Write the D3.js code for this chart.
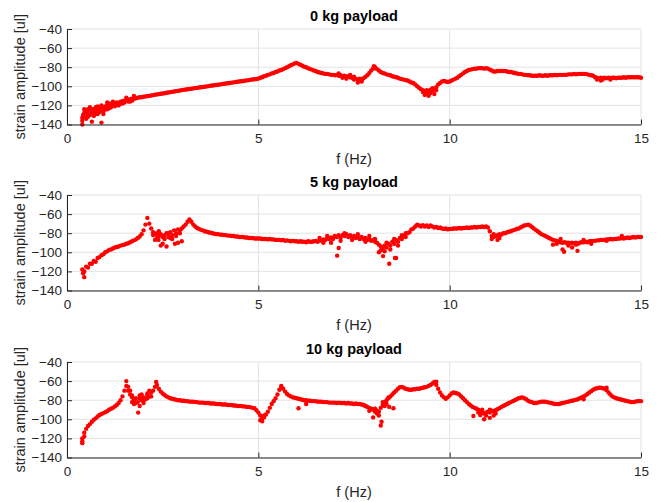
<!DOCTYPE html>
<html>
<head>
<meta charset="utf-8">
<script src="https://cdn.jsdelivr.net/npm/d3@7"></script>
<style>
  html, body { margin: 0; padding: 0; background: #fff; }
  svg { display: block; font-family: "Liberation Sans", Arial, Helvetica, sans-serif; }
</style>
</head>
<body>
<svg id="chart" width="662" height="502"></svg>
<script>
// ---------------- DATA ----------------
const titles = ["0 kg payload", "5 kg payload", "10 kg payload"];
const xTicks = [0, 5, 10, 15];
const yTicks = [-140, -120, -100, -80, -60, -40];
const xLabel = "f (Hz)";
const yLabel = "strain amplitude [ul]";
// frequency grid: first frequency and spacing (Hz)
const fStart = 0.4;
const fStep = 0.05;

// strain amplitude read at 0.40, 0.45, ... 15.00 Hz
const series0kg = [
  -133,-128,-126,-129,-125,-127,-124,-126,-123,-125,-122,-123,
  -121,-120,-121,-119,-118.5,-119,-117,-117.5,-116,-115.5,-115,-114.5,-114,-113.5,-113,-113,-112.5,-112,-111.5,-111.5,
  -111,-110.6,-110.3,-110,-109.6,-109.2,-108.9,-108.5,-108.2,-107.8,-107.5,-107.2,-106.8,-106.5,-106.1,-105.8,-105.5,-105.1,-104.8,-104.4,
  -104,-103.7,-103.4,-103.1,-102.8,-102.5,-102.2,-101.9,-101.6,-101.3,-101,-100.7,-100.4,-100.1,-99.8,-99.5,-99.2,-98.9,-98.6,-98.3,
  -98,-97.7,-97.4,-97.1,-96.8,-96.5,-96.2,-95.9,-95.6,-95.3,-95,-94.7,-94.4,-94.1,-93.8,-93.5,-93.2,-92.9,-92.6,-92.3,
  -92,-91,-90.5,-89.5,-89,-88,-87.5,-86.5,-86,-85,-84.5,-83.5,-83,-82,-81,-80,-79,-78,-77,-76,
  -75.5,-76.5,-77.5,-78.5,-79.5,-80,-81,-82,-82.5,-83.5,-84,-85,-85.5,-86,-86.5,-87,-87,-87.5,-88,-88,
  -88.5,-88,-89,-88.5,-89.5,-89,-90,-89.5,-90.5,-91,-90,-92,-94,-92,-93,-91.5,-90,-88.5,-86,-83.5,
  -81.5,-80,-82,-83.5,-85,-86,-86.5,-87.5,-88,-88.5,-89.5,-90,-90.5,-91,-92,-92.5,-93,-93.5,-94,-95,
  -96,-96.5,-98,-100,-101.5,-103,-104,-105.5,-107,-105,-103.5,-104.5,-103,-101,-98,-96.5,-95,-94.5,-95,-95.5,
  -95,-94,-93,-92,-91,-89.5,-88,-86.5,-85,-84,-83,-82.5,-82,-81.5,-81.5,-81,-81,-81,-81.5,-81,
  -81.5,-82.5,-83.5,-84.5,-84.5,-84,-84,-84,-84,-84,-84.5,-85,-85,-85.5,-86,-86.5,-87,-87,-87.5,-88,
  -88,-88.5,-88.5,-89,-89,-89,-89,-88.5,-89,-89,-88.5,-89,-88.5,-88.5,-88.5,-88,-88.5,-88,-88,-88,
  -88,-88,-87.5,-87.5,-87.5,-87,-87.5,-87,-87,-87,-87,-87,-87.5,-88,-88.5,-89,-90.5,-91,-92,-91,
  -91.5,-91,-91.5,-91,-91.5,-91,-91,-91.5,-91,-91,-91,-90.5,-91,-90.5,-90.5,-90.5,-90.5,-90.5,-90.5,-90.5,
  -91
];
const series5kg = [
  -118,-120,-115,-116,-112,-112,-109,-110,-106,-105,-103,-102,
  -100,-99,-97.5,-97,-96,-95,-94.5,-94,-93,-92.5,-92,-91,-90.5,-89.5,-88.5,-87.5,-86.5,-85,-83.5,-81,
  -77,-71,-64,-70,-75,-79,-81,-80,-83,-81,-84,-82,-80,-84,-79,-82,-77,-80,-76,-77,
  -75,-73,-71,-68,-65.5,-68,-71,-73,-74.5,-75.5,-76.5,-77,-78,-78.5,-79,-79.5,-80,-80.5,-81,-81,
  -81.5,-81.5,-82,-82,-82.5,-82.5,-83,-83,-83.5,-83.5,-84,-84,-84,-84.5,-84.5,-85,-85,-85,-85.5,-85.5,
  -85.5,-85.5,-86,-86,-86,-86.5,-86,-86.5,-86.5,-87,-87,-87,-87.5,-87,-88,-87.5,-88,-88.5,-88,-88.5,
  -88.5,-89,-88.5,-89,-89,-89.5,-88.5,-89,-89,-88.5,-88,-89,-87.5,-88,-86.5,-87,-85.5,-86,-84.5,-85,
  -83,-84,-82,-85,-82,-83,-81,-84,-82,-84,-83,-85,-84,-86,-84,-86,-85,-87,-86,-88,
  -87,-89,-90,-92,-94,-96,-93,-95,-91,-93,-89,-91,-87,-89,-85,-86,-83,-84,-80,-79,
  -76,-75,-73,-71,-72,-73,-71.5,-73,-72,-73.5,-72,-73,-74,-73.5,-74.5,-74,-75,-75.5,-75,-76,
  -75.5,-75.5,-75,-75,-75,-74.5,-75,-74.5,-74.5,-74,-74.5,-74,-74,-73.5,-74,-73.5,-73.5,-73,-73.5,-73,
  -74,-78,-83,-84,-83,-82,-81,-81.5,-80,-80,-79,-78.5,-78,-77,-76.5,-75.5,-75,-74,-73,-72,
  -71.5,-71,-72,-73.5,-75,-76.5,-78,-79.5,-81,-82,-83,-84,-85,-86,-87,-87.5,-88,-89,-89.5,-90,
  -89.5,-90,-90,-90.5,-90,-90.5,-90,-91,-90,-89.5,-89.5,-89,-89.5,-88.5,-88.5,-88,-88,-87.5,-87.5,-87,
  -87,-87,-86.5,-86.5,-86,-86.5,-86,-86,-85.5,-85.5,-85,-85.5,-85,-84.5,-85,-84.5,-84,-84.5,-84,-84,
  -84
];
const series10kg = [
  -120,-114,-110,-107,-105,-102.5,-100.5,-99,-97,-95.5,-94.5,-93.5,
  -92.5,-91.5,-90,-89,-88,-86.5,-85,-83,-80,-76,-70,-65,-70,-74,-77,-80,-78,-82,-78,-80,
  -77,-79,-75,-76,-72,-70,-66,-64,-68,-71,-73,-74.5,-76,-77,-78,-78.5,-79,-79.5,-80,-80,
  -80.5,-80.5,-81,-81,-81.5,-81.5,-81.5,-82,-82,-82.5,-82.5,-82.5,-83,-83,-83,-83.5,-83.5,-83.5,-84,-84,
  -84,-84.5,-84.5,-84.5,-85,-85,-85,-85.5,-85.5,-86,-86,-86,-86.5,-86.5,-87,-87,-87.5,-88,-88.5,-90.5,
  -93,-96,-99,-98,-95,-92,-88,-84,-81,-78,-74,-69,-66.5,-68,-71,-73.5,-75,-76,-77,-77.5,
  -78,-78.5,-79,-79.5,-80,-80,-80.5,-80.5,-81,-81,-81,-81.5,-81.5,-81.5,-82,-82,-82,-82.5,-82.5,-82.5,
  -82.5,-83,-82.5,-83,-83,-83,-83.5,-83,-83.5,-83.5,-84,-83.5,-84,-84,-84.5,-85,-86,-87,-88,-89,
  -90,-92,-94,-92,-88,-85,-82,-80,-78,-76,-74,-72,-70,-68,-66.5,-66,-67,-68,-68.5,-69,
  -69,-68.5,-68.5,-68,-68,-67.5,-67,-66.5,-66,-65,-64,-62.5,-61,-64,-68,-72,-75,-77,-78.5,-77,
  -75,-73,-72,-72.5,-73,-74,-76,-78,-80,-82,-84,-85.5,-87,-88,-89,-90,-92,-93,-94,-93,
  -92,-93,-91,-91.5,-90.5,-89.5,-88.5,-87,-86,-85,-84,-83,-82,-81,-80,-79,-78,-77.5,-77,-78,
  -79,-80.5,-81.5,-82,-83,-83,-82.5,-82,-81.5,-81.5,-81.5,-82,-82.5,-83,-83.5,-84,-84,-84,-83.5,-83,
  -82.5,-82,-81.5,-81,-80.5,-80,-79.5,-79,-78,-77,-76,-75,-73.5,-72,-70.5,-69,-68,-67.5,-67,-67,
  -67.5,-68,-69.5,-72,-74,-76,-77,-78,-78.5,-79,-79.5,-80,-80.5,-81,-81.5,-82,-82,-81.5,-81,-81,
  -81
];

// scattered points off the main band: [f (Hz), strain amplitude]
const scatter0kg = [
  [0.4,-140],[0.4,-136],[0.42,-130],[0.45,-131],[0.5,-134],[0.55,-124],[0.6,-130],[0.65,-137],
  [0.7,-128],[0.75,-122],[0.8,-129],[0.9,-138],[0.95,-126],[1.0,-124],[1.05,-117],[1.1,-123],
  [1.2,-116],[1.25,-121],[1.35,-120],[1.4,-118],[1.5,-117],[1.55,-112],[1.65,-116],[1.75,-110],
  [0.45,-124],[0.5,-130],[0.55,-132],[0.6,-122],[0.65,-124],[0.7,-131],[0.75,-129],[0.8,-121],
  [0.85,-127],[0.9,-120],[0.95,-129],[1.05,-124],[1.1,-118],[1.15,-122],[1.3,-119],[1.45,-118],
  [1.6,-116],[1.7,-115],[7.2,-91],[7.3,-92],[7.4,-88],[7.6,-96],[7.7,-95],[9.3,-106],[9.4,-104],
  [9.5,-107],[9.65,-104],[13.85,-93],[14.2,-93],
  [7.1,-86.5],[7.5,-93],[8.02,-79],[9.35,-109],[9.45,-110],[9.55,-102],[9.6,-108],[13.95,-94],[14.0,-93]
];
const scatter5kg = [
  [0.45,-126],[0.42,-122],[2.3,-87],[2.39,-87],[2.45,-93],[2.5,-91],[2.6,-94],[2.7,-85],[2.82,-91],
  [2.9,-90],[3.0,-88.5],[2.4,-78],[6.9,-90],[7.06,-103.5],[7.1,-95.5],[8.15,-100],[8.26,-104],
  [8.42,-112],[8.57,-106],[8.6,-106],[11.1,-86],[11.25,-87],[12.95,-97],[12.99,-99.5],[13.2,-95],[13.34,-98.5],
  [2.25,-82],[2.35,-85],[2.55,-86],[2.65,-80],[2.75,-86],[2.85,-83],[2.95,-80],[6.6,-85],[6.7,-90],
  [6.8,-83],[6.95,-86],[7.15,-88],[7.25,-80],[7.45,-87],[7.6,-81],[7.8,-89],[7.9,-83],[8.05,-86],
  [8.2,-98],[8.3,-99],[8.35,-90],[8.45,-97],[8.55,-86],[8.65,-93],[8.75,-82],[8.85,-80],[11.15,-81],
  [11.3,-85],[12.7,-92],[12.8,-91],[12.9,-86],[13.1,-93],[13.3,-92],[13.5,-87],[13.7,-91],[14.1,-88],[14.5,-83]
];
const scatter10kg = [
  [0.4,-125],[0.4,-123],[0.45,-118],[1.55,-60],[1.6,-66],[1.7,-82],[1.75,-84],[1.86,-93],[1.9,-86],
  [1.95,-74],[2.0,-83],[2.1,-78],[2.33,-61],[5.05,-101],[5.1,-102],[5.15,-96],[5.6,-65],[6.05,-88.5],
  [6.25,-84],[8.0,-98],[8.2,-106.5],[8.22,-102.5],[8.42,-87],[8.53,-88.5],[8.3,-86],[9.65,-60.5],
  [10.62,-96.5],[10.8,-95.5],[10.9,-100],[11.05,-98.5],[11.15,-96],
  [1.65,-70],[1.7,-75],[1.8,-83],[1.9,-75],[2.0,-80],[2.1,-73],[2.2,-76],[2.15,-70],[7.8,-86],
  [7.9,-91],[8.05,-89],[8.1,-91],[8.15,-96],[8.25,-82],[8.35,-84],[8.4,-77],[10.75,-93],[10.85,-90],
  [10.95,-96],[11.05,-90],[11.2,-94],[13.5,-79],[14.1,-67]
];

const seriesList = [series0kg, series5kg, series10kg];
const scatterList = [scatter0kg, scatter5kg, scatter10kg];

// ---------------- LAYOUT ----------------
const svg = d3.select("#chart");
const left = 67, right = 641;
const panelTops = [29, 195, 362];
const panelH = 95.5;
const axisColor = "#262626";
const gridColor = "#e3e3e3";
const dotColor = "#ff0000";

const x = d3.scaleLinear().domain([0, 15]).range([left, right]);

panelTops.forEach((top, k) => {
  const y = d3.scaleLinear().domain([-140, -40]).range([top + panelH, top]);
  const g = svg.append("g");

  // grid
  g.append("g").selectAll("line.gx").data(xTicks).join("line")
    .attr("x1", d => x(d)).attr("x2", d => x(d))
    .attr("y1", top).attr("y2", top + panelH)
    .attr("stroke", gridColor).attr("stroke-width", 1);
  g.append("g").selectAll("line.gy").data(yTicks).join("line")
    .attr("x1", left).attr("x2", right)
    .attr("y1", d => y(d)).attr("y2", d => y(d))
    .attr("stroke", gridColor).attr("stroke-width", 1);

  // data points
  const pts = seriesList[k].map((v, i) => ({ f: Math.round((fStart + i * fStep) * 100) / 100, v }));
  const extra = scatterList[k].map(d => ({ f: d[0], v: d[1] }));
  const all = pts.concat(extra);
  g.append("g").selectAll("circle").data(all).join("circle")
    .attr("cx", d => x(d.f)).attr("cy", d => y(d.v))
    .attr("r", 2.2).attr("fill", dotColor);

  // axes
  const xAxis = d3.axisBottom(x).tickValues(xTicks).tickFormat(d3.format("d"))
    .tickSizeInner(-5).tickSizeOuter(0).tickPadding(9);
  const gx = g.append("g").attr("transform", `translate(0,${top + panelH})`).call(xAxis);
  const yAxis = d3.axisLeft(y).tickValues(yTicks).tickFormat(d3.format("d"))
    .tickSizeInner(-5).tickSizeOuter(0).tickPadding(5);
  const gy = g.append("g").attr("transform", `translate(${left},0)`).call(yAxis);
  [gx, gy].forEach(a => {
    a.select(".domain").attr("stroke", axisColor).attr("stroke-width", 1);
    a.selectAll(".tick line").attr("stroke", axisColor);
    a.selectAll(".tick text").attr("fill", axisColor)
      .style("font-size", "13.5px").style("font-family", "'Liberation Sans', Arial, sans-serif");
  });

  // title
  g.append("text").attr("x", (left + right) / 2).attr("y", top - 8)
    .attr("text-anchor", "middle").attr("font-weight", "bold")
    .attr("font-size", "14.5px").attr("fill", "#000").text(titles[k]);
  // x label
  g.append("text").attr("x", (left + right) / 2).attr("y", top + panelH + 39)
    .attr("text-anchor", "middle").attr("font-size", "14.5px").attr("fill", axisColor).text(xLabel);
  // y label
  g.append("text").attr("transform", `translate(25,${top + panelH / 2}) rotate(-90)`)
    .attr("text-anchor", "middle").attr("font-size", "14.5px").attr("fill", axisColor).text(yLabel);
});
</script>
</body>
</html>
